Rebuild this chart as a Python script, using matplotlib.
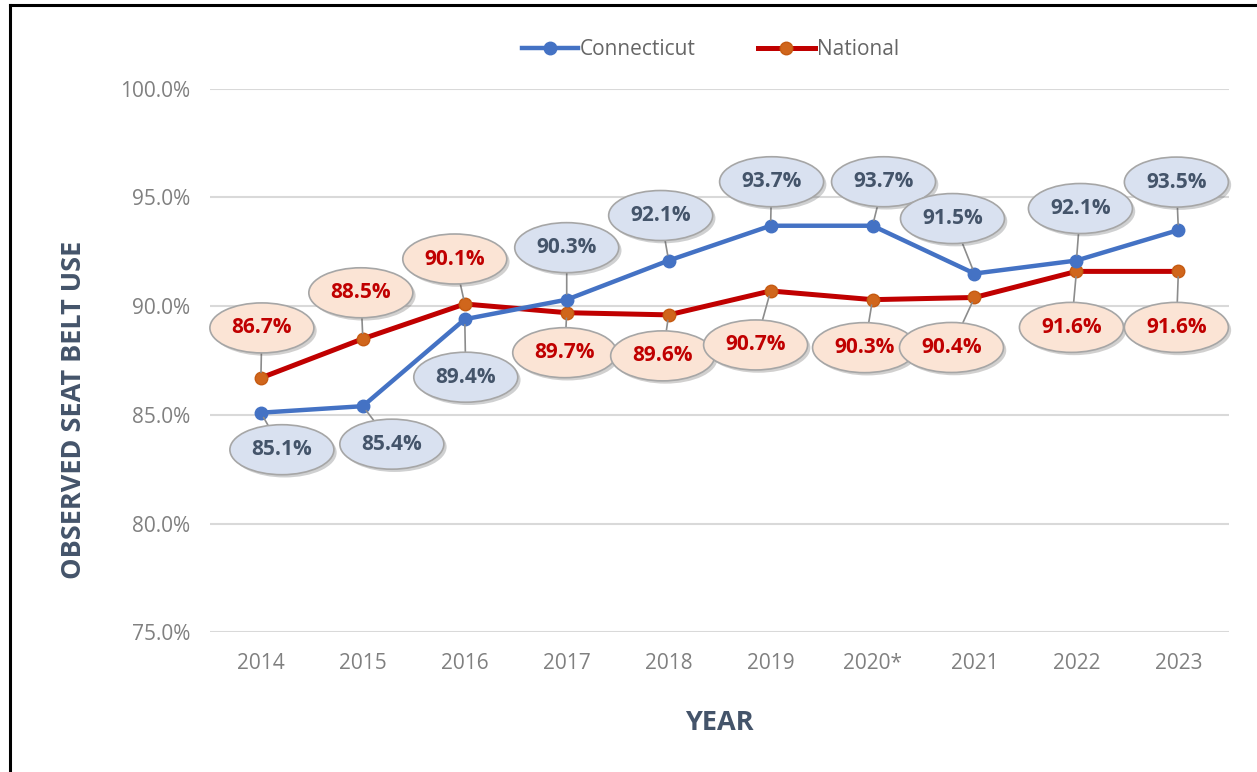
import matplotlib
matplotlib.use("Agg")
import matplotlib.pyplot as plt
from matplotlib.path import Path
from matplotlib.lines import Line2D
import matplotlib.patheffects as pe

years = ["2014", "2015", "2016", "2017", "2018", "2019", "2020*", "2021", "2022", "2023"]
connecticut = [85.1, 85.4, 89.4, 90.3, 92.1, 93.7, 93.7, 91.5, 92.1, 93.5]
national = [86.7, 88.5, 90.1, 89.7, 89.6, 90.7, 90.3, 90.4, 91.6, 91.6]
yticks = [75, 80, 85, 90, 95, 100]

# label offsets in pixels (layout only)
ct_off = [(21, -37), (29, -38), (1, -58), (0, 52), (-8, 45), (1, 44), (11, 44), (-22, 55), (4, 52), (-2, 48)]
nat_off = [(1, 50), (-2, 46), (-10, 45), (-2, -40), (-6, -41), (-15, -54), (-8, -48), (-23, -50), (-5, -56), (-2, -56)]

FONT = "Open Sans"
plt.rcParams['font.family'] = [FONT, 'DejaVu Sans']


class EllipseBox:
    def __init__(self, w, h):
        self.w, self.h = w, h

    def __call__(self, x0, y0, width, height, mutation_size):
        cx, cy = x0 + width / 2, y0 + height / 2
        c = Path.unit_circle()
        verts = c.vertices * [self.w / 2, self.h / 2] + [cx, cy]
        return Path(verts, c.codes)


fig = plt.figure(figsize=(12.57, 7.72), dpi=100)
fig.patch.set_facecolor("white")
ax = fig.add_axes([0.167, 0.181, 0.811, 0.704])

x = list(range(len(years)))
ax.plot(x, national, color="#c00000", lw=3.6, marker="o", ms=9,
        mfc="#d0661c", mec="#c55a11", mew=1, zorder=3, label="National")
ax.plot(x, connecticut, color="#4472c4", lw=3.2, marker="o", ms=9,
        mfc="#4472c4", mec="#4472c4", zorder=4, label="Connecticut")

ax.set_xlim(-0.5, len(years) - 0.5)
ax.set_ylim(75, 100)
ax.set_yticks(yticks)
ax.set_yticklabels([f"{t:.1f}%" for t in yticks])
ax.set_xticks(x)
ax.set_xticklabels(years)
ax.tick_params(length=0, labelsize=15, labelcolor="#808080")
ax.tick_params(axis='x', pad=15)
ax.tick_params(axis='y', pad=14)
ax.grid(axis='y', color="#d9d9d9", lw=1.5)
ax.set_axisbelow(True)
for s in ax.spines.values():
    s.set_visible(False)

ax.set_ylabel("OBSERVED SEAT BELT USE", fontsize=19.5, fontweight="bold",
              color="#44546a")
ax.yaxis.set_label_coords(-0.121, 0.41)
ax.set_xlabel("YEAR", fontsize=19.5, fontweight="bold", color="#44546a", labelpad=26)


def add_labels(vals, offs, fc, tc):
    for i, (v, (dx, dy)) in enumerate(zip(vals, offs)):
        t = ax.annotate(f"{v:.1f}%", xy=(i, v), xytext=(dx, dy),
                        textcoords="offset pixels", ha="center", va="center",
                        fontsize=15, fontweight="bold", color=tc, zorder=6,
                        bbox=dict(boxstyle=EllipseBox(104, 50), fc=fc,
                                  ec="#a6a6a6", lw=1.2, pad=0),
                        arrowprops=dict(arrowstyle="-", color="#8c8c8c", lw=1.2,
                                        shrinkA=0, shrinkB=4))
        t.get_bbox_patch().set_path_effects(
            [pe.SimplePatchShadow(offset=(2, -2), alpha=0.25), pe.Normal()])


add_labels(connecticut, ct_off, "#d9e1f0", "#44546a")
add_labels(national, nat_off, "#fbe4d5", "#c00000")

handles, labels = ax.get_legend_handles_labels()
leg = fig.legend(handles[::-1], labels[::-1], loc="center", ncol=2,
                 bbox_to_anchor=(0.565, 0.936), frameon=False, fontsize=15,
                 handlelength=2.7, columnspacing=3.0, handletextpad=0.1)
for txt in leg.get_texts():
    txt.set_color("#666666")

# figure border (top and left)
fig.add_artist(Line2D([0.008, 1.0], [0.994, 0.994], transform=fig.transFigure,
                      color="black", lw=2.2))
fig.add_artist(Line2D([0.008, 0.008], [0.0, 0.994], transform=fig.transFigure,
                      color="black", lw=2.2))

fig.savefig("out.png", dpi=100, facecolor="white")
